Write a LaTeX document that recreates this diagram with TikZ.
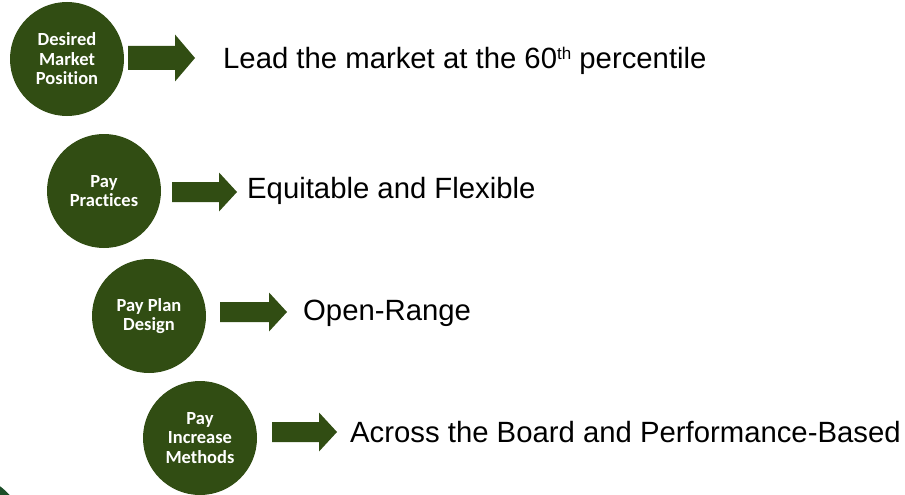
\documentclass[tikz,border=0pt]{standalone}
\usepackage{fontspec}
\setmainfont{Liberation Sans}
\newfontfamily\circfont[Ligatures=NoCommon]{Carlito}
\definecolor{leafgreen}{RGB}{49,77,19}
\definecolor{cornergreen}{RGB}{28,78,40}
\tikzset{
  stage/.style={circle, fill=leafgreen, text=white, align=center,
    minimum size=114pt, inner sep=0pt,
    font=\circfont\bfseries\fontsize{18.5}{19.5}\selectfont},
  outcome/.style={anchor=base west, inner sep=0pt, text=black,
    font=\fontsize{29.3}{34}\selectfont},
}
% block arrow: x start, x tip, y centre, shaft half-width, head half-width, head length
\newcommand\blockarrow[6]{%
  \fill[leafgreen] (#1,#3-#4) -- (#2-#6,#3-#4) -- (#2-#6,#3-#5) -- (#2,#3)
    -- (#2-#6,#3+#5) -- (#2-#6,#3+#4) -- (#1,#3+#4) -- cycle;}
% small raised ordinal suffix
\newcommand\ordsup[1]{\raisebox{0.62ex}{\fontsize{17}{17}\selectfont #1}}
\begin{document}
\begin{tikzpicture}[x=1pt,y=-1pt]
  \useasboundingbox (0,0) rectangle (905,495);
  \begin{scope}
    \clip (0,0) rectangle (905,495);
    \fill[cornergreen] (-40,540) circle (67);
  \end{scope}

  \node[stage] (market)   at (67,59)   {Desired\\Market\\Position};
  \node[stage] (practice) at (104,191) {Pay\\Practices};
  \node[stage] (plan)     at (149,316) {Pay Plan\\Design};
  \node[stage] (increase) at (200,438) {Pay\\Increase\\Methods};

  \blockarrow{128}{195}{58}{12}{23.5}{20}
  \blockarrow{172}{237}{192}{10}{19.5}{18}
  \blockarrow{220}{287}{312}{10}{19.5}{18}
  \blockarrow{272}{337}{432}{10}{19.5}{18}

  \node[outcome] (lead)     at (223,69)  {Lead the market at the 60\ordsup{th} percentile};
  \node[outcome] (equit)    at (247,198) {Equitable and Flexible};
  \node[outcome] (openr)    at (303,320) {Open-Range};
  \node[outcome] (across)   at (350,442) {Across the Board and Performance-Based};
\end{tikzpicture}
\end{document}
